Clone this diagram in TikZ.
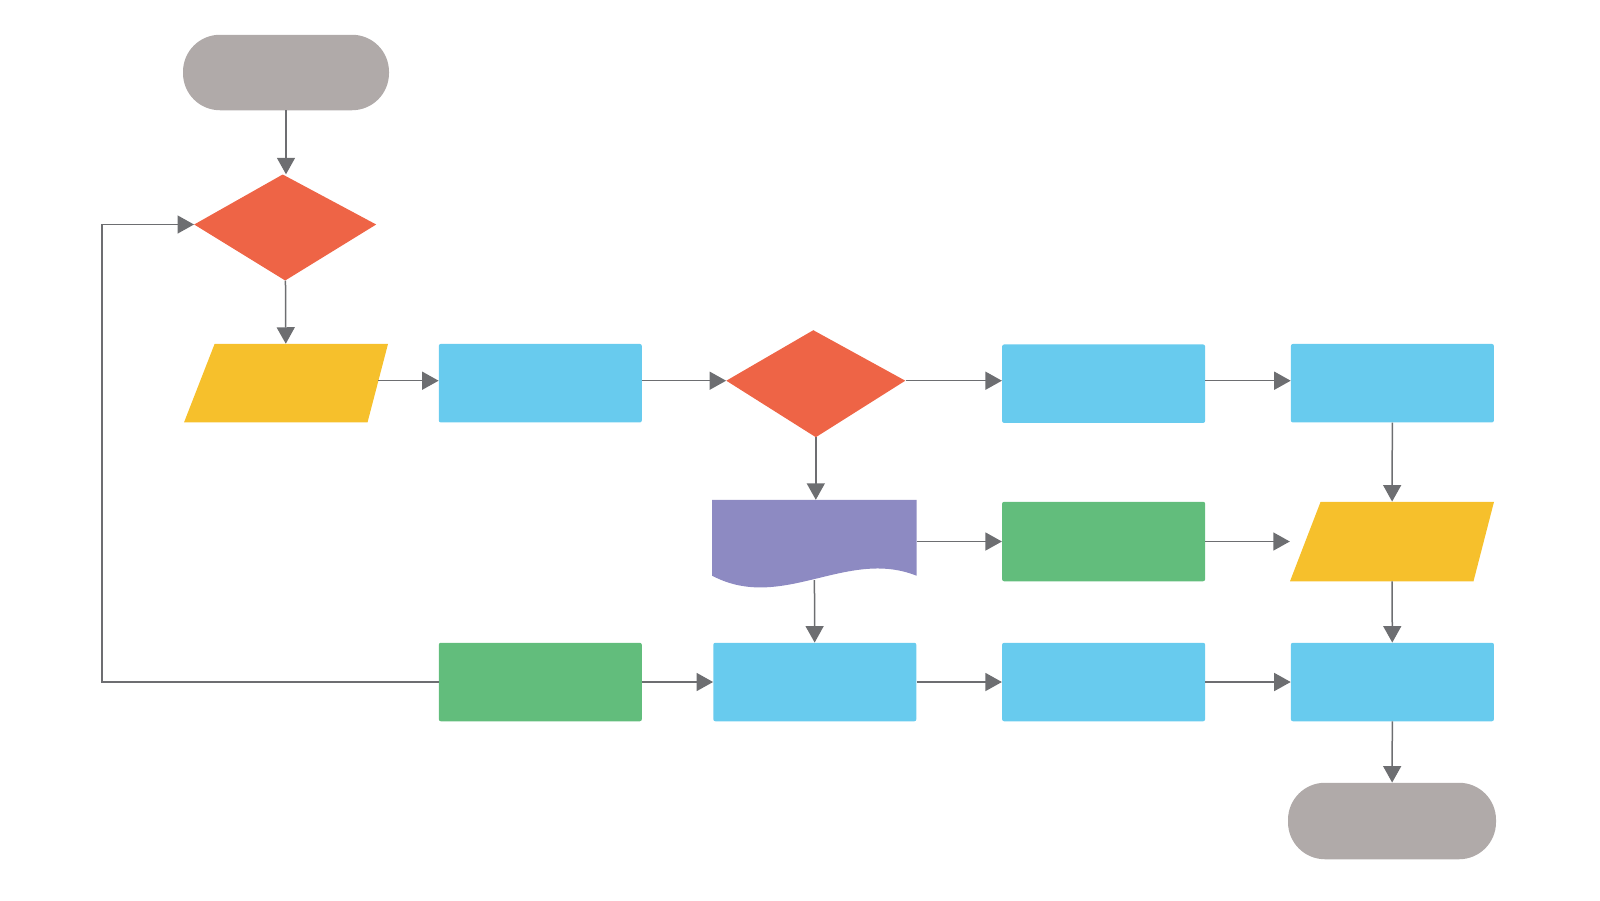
\documentclass[tikz,border=0pt]{standalone}
\usepackage{xcolor}
\usepackage{tikz}
\usetikzlibrary{arrows.meta,positioning,shapes.geometric,calc}
\definecolor{termgray}{HTML}{B0AAA9}
\definecolor{decred}{HTML}{EE6446}
\definecolor{ioyellow}{HTML}{F6C02C}
\definecolor{procblue}{HTML}{68CBEE}
\definecolor{procgreen}{HTML}{62BD7C}
\definecolor{docpurple}{HTML}{8D8AC2}
\definecolor{linegray}{HTML}{6D6E71}
\tikzset{
  >={Triangle[length=16.5pt,width=18pt]},
  term/.style={fill=termgray, rounded corners=37pt, minimum width=206pt, minimum height=75.5pt, inner sep=0pt},
  dec/.style={minimum width=182pt, minimum height=106pt, inner sep=0pt,
    path picture={\fill[decred] ([xshift=-2.5pt]path picture bounding box.north)
      -- ([yshift=3pt]path picture bounding box.east) -- (path picture bounding box.south)
      -- ([yshift=3pt]path picture bounding box.west) -- cycle;}},
  io/.style={minimum width=204pt, minimum height=78.5pt, inner sep=0pt,
    path picture={\fill[ioyellow] ([xshift=30.6pt]path picture bounding box.north west)
      -- (path picture bounding box.north east) -- ([xshift=-20.5pt]path picture bounding box.south east)
      -- (path picture bounding box.south west) -- cycle;}},
  blk/.style={fill=procblue, rounded corners=2pt, minimum width=203pt, minimum height=78.5pt, inner sep=0pt},
  blkg/.style={blk, fill=procgreen},
  docbox/.style={minimum width=204pt, minimum height=80pt, inner sep=0pt},
  flow/.style={->, draw=linegray, line width=1.5pt},
}

\begin{document}
\begin{tikzpicture}[x=1pt, y=-1pt]
  \useasboundingbox (0,0) rectangle (1600,900);
  % first column
  \node[term] (start) at (286,72.5) {};
  \node[dec] (dec1) at (285.2,227.5) {};
  \node[io] (in1) at (286,383.2) {};
  % top row
  \node[blk] (p1) at (540.3,383.2) {};
  \node[dec, minimum width=179pt, minimum height=107pt] (dec2) at (815.8,383.7) {};
  \node[blk] (p2) at (1103.6,383.7) {};
  \node[blk] (p3) at (1392.4,383.2) {};
  % middle row
  \node[docbox] (doc) at (814.3,540) {};
  \fill[docpurple] (doc.north west) -- (doc.north east) -- ([yshift=4.5pt]doc.south east)
    .. controls +(-70,-28) and +(70,37) .. ([yshift=4.5pt]doc.south west) -- cycle;
  \node[blkg, minimum height=79.5pt] (g1) at (1103.6,541.5) {};
  \node[io, minimum height=79.5pt] (in2) at (1392,541.5) {};
  % bottom row
  \node[blkg] (g2) at (540.3,682) {};
  \node[blk] (p4) at (814.8,682) {};
  \node[blk] (p5) at (1103.6,682) {};
  \node[blk] (p6) at (1392.4,682) {};
  \node[term, minimum width=208pt, minimum height=76.5pt] (stop) at (1392,821) {};
  \coordinate (loop) at (102,682);
  % connectors
  \draw[flow] (start) -- (start |- dec1.north);
  \draw[flow] (dec1) -- (in1);
  \draw[flow] ([xshift=-10pt,yshift=2.5pt]in1.east) -- ([yshift=2.5pt]p1.west);
  \draw[flow] ([yshift=2.5pt]p1.east) -- ([yshift=3pt]dec2.west);
  \draw[flow] ([yshift=3pt]dec2.east) -- ([yshift=2.5pt]p2.west |- p1.east);
  \draw[flow] ([yshift=2.5pt]p2.east |- p3.west) -- ([yshift=2.5pt]p3.west);
  \draw[flow] (p3) -- (in2);
  \draw[flow] (dec2) -- (doc.north -| dec2.south);
  \draw[flow] (doc.east |- g1.west) -- (g1.west);
  \draw[flow] (g1) -- (in2.west);
  \draw[flow] (in2) -- (p6);
  \draw[flow] (doc) -- (p4);
  \draw[flow] (g2) -- (p4);
  \draw[flow] (p4) -- (p5);
  \draw[flow] (p5) -- (p6);
  \draw[flow] (p6) -- (stop);
  \draw[flow] (g2.west) -- (loop) |- ([yshift=3pt]dec1.west);
\end{tikzpicture}
\end{document}
